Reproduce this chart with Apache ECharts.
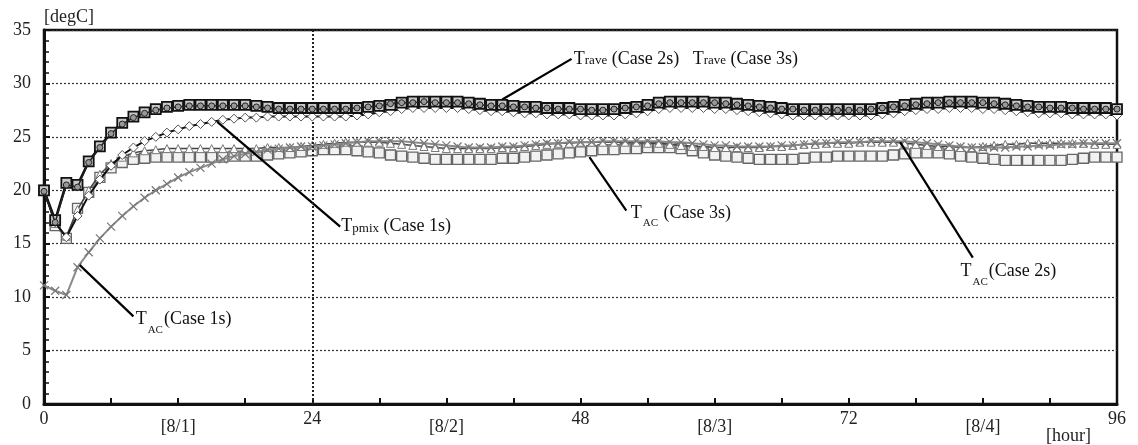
<!DOCTYPE html>
<html>
<head>
<meta charset="utf-8">
<script src="https://cdn.jsdelivr.net/npm/echarts@6/dist/echarts.min.js"></script>
<style>
  html, body { margin: 0; padding: 0; background: #fff; }
  #chart { width: 1138px; height: 445px; }
</style>
</head>
<body>
<div id="chart"></div>
<script>
// hours 0..96, one point an hour
const hours = [
    0, 1, 2, 3, 4, 5, 6, 7, 8, 9,
    10, 11, 12, 13, 14, 15, 16, 17, 18, 19,
    20, 21, 22, 23, 24, 25, 26, 27, 28, 29,
    30, 31, 32, 33, 34, 35, 36, 37, 38, 39,
    40, 41, 42, 43, 44, 45, 46, 47, 48, 49,
    50, 51, 52, 53, 54, 55, 56, 57, 58, 59,
    60, 61, 62, 63, 64, 65, 66, 67, 68, 69,
    70, 71, 72, 73, 74, 75, 76, 77, 78, 79,
    80, 81, 82, 83, 84, 85, 86, 87, 88, 89,
    90, 91, 92, 93, 94, 95, 96
];

const traveCase2 = [
    20.0, 17.2, 20.7, 20.5, 22.7, 24.1, 25.4, 26.3, 26.9, 27.3,
    27.6, 27.8, 27.9, 28.0, 28.0, 28.0, 28.0, 28.0, 28.0, 27.9,
    27.8, 27.7, 27.7, 27.7, 27.7, 27.7, 27.7, 27.7, 27.7, 27.8,
    27.9, 28.0, 28.2, 28.3, 28.3, 28.3, 28.3, 28.3, 28.2, 28.1,
    28.0, 28.0, 27.9, 27.8, 27.8, 27.7, 27.7, 27.7, 27.6, 27.6,
    27.6, 27.6, 27.7, 27.8, 28.0, 28.2, 28.3, 28.3, 28.3, 28.3,
    28.2, 28.2, 28.1, 28.0, 27.9, 27.8, 27.7, 27.6, 27.6, 27.6,
    27.6, 27.6, 27.6, 27.6, 27.6, 27.7, 27.8, 28.0, 28.1, 28.2,
    28.2, 28.3, 28.3, 28.3, 28.2, 28.2, 28.1, 28.0, 27.9, 27.8,
    27.8, 27.8, 27.7, 27.7, 27.7, 27.7, 27.6
];

const traveCase3 = [
    19.9, 17.0, 20.5, 20.3, 22.6, 24.0, 25.3, 26.2, 26.8, 27.2,
    27.5, 27.7, 27.8, 27.9, 27.9, 27.9, 27.9, 27.9, 27.9, 27.8,
    27.7, 27.6, 27.6, 27.6, 27.6, 27.6, 27.6, 27.6, 27.7, 27.8,
    27.9, 28.1, 28.2, 28.2, 28.3, 28.2, 28.2, 28.2, 28.1, 28.0,
    27.9, 27.9, 27.8, 27.8, 27.7, 27.7, 27.6, 27.6, 27.6, 27.5,
    27.5, 27.6, 27.7, 27.8, 27.9, 28.1, 28.2, 28.2, 28.2, 28.2,
    28.2, 28.1, 28.0, 27.9, 27.8, 27.7, 27.6, 27.6, 27.5, 27.5,
    27.5, 27.5, 27.5, 27.5, 27.6, 27.7, 27.8, 27.9, 28.0, 28.1,
    28.2, 28.2, 28.2, 28.2, 28.2, 28.1, 28.0, 27.9, 27.8, 27.8,
    27.7, 27.7, 27.7, 27.6, 27.6, 27.6, 27.6
];

const tpmixCase1 = [
    20.0, 17.0, 15.6, 17.6, 19.5, 21.0, 22.3, 23.3, 24.0, 24.6,
    25.0, 25.4, 25.7, 26.0, 26.2, 26.4, 26.6, 26.7, 26.8, 26.8,
    26.9, 26.9, 26.9, 26.9, 26.9, 26.9, 26.9, 26.9, 27.0, 27.1,
    27.3, 27.4, 27.6, 27.7, 27.7, 27.7, 27.7, 27.7, 27.6, 27.5,
    27.4, 27.4, 27.3, 27.2, 27.2, 27.1, 27.1, 27.1, 27.0, 27.0,
    27.0, 27.0, 27.1, 27.2, 27.4, 27.6, 27.7, 27.7, 27.7, 27.7,
    27.6, 27.6, 27.5, 27.4, 27.3, 27.2, 27.1, 27.0, 27.0, 27.0,
    27.0, 27.0, 27.0, 27.0, 27.0, 27.1, 27.2, 27.4, 27.5, 27.6,
    27.6, 27.7, 27.7, 27.7, 27.6, 27.6, 27.5, 27.4, 27.3, 27.2,
    27.2, 27.2, 27.1, 27.1, 27.1, 27.1, 27.0
];

const tacCase1 = [
    11.1, 10.6, 10.2, 12.8, 14.2, 15.5, 16.6, 17.6, 18.5, 19.3,
    20.0, 20.6, 21.2, 21.7, 22.1, 22.5, 22.9, 23.2, 23.4, 23.6,
    23.8, 23.9, 24.0, 24.1, 24.1, 24.2, 24.3, 24.4, 24.5, 24.6,
    24.6, 24.6, 24.6, 24.5, 24.4, 24.3, 24.2, 24.1, 24.0, 24.0,
    24.0, 24.1, 24.1, 24.2, 24.3, 24.4, 24.4, 24.5, 24.5, 24.5,
    24.6, 24.6, 24.6, 24.6, 24.6, 24.6, 24.5, 24.5, 24.4, 24.3,
    24.2, 24.2, 24.1, 24.1, 24.1, 24.1, 24.2, 24.2, 24.3, 24.4,
    24.4, 24.5, 24.5, 24.5, 24.6, 24.6, 24.6, 24.6, 24.5, 24.4,
    24.3, 24.2, 24.1, 24.0, 24.0, 24.0, 24.0, 24.1, 24.1, 24.2,
    24.2, 24.3, 24.3, 24.4, 24.4, 24.4, 24.4
];

const tacCase2 = [
    20.0, 16.9, 15.7, 18.2, 20.0, 21.5, 22.5, 23.1, 23.5, 23.7,
    23.8, 23.9, 23.9, 23.9, 23.9, 23.9, 23.9, 23.9, 23.9, 23.9,
    24.0, 24.0, 24.0, 24.1, 24.2, 24.3, 24.4, 24.5, 24.5, 24.5,
    24.5, 24.4, 24.3, 24.2, 24.1, 24.0, 23.9, 23.9, 23.9, 23.9,
    23.9, 24.0, 24.0, 24.1, 24.2, 24.3, 24.4, 24.4, 24.5, 24.5,
    24.5, 24.5, 24.5, 24.5, 24.4, 24.4, 24.3, 24.2, 24.1, 24.1,
    24.0, 24.0, 24.0, 24.0, 24.0, 24.1, 24.1, 24.2, 24.3, 24.3,
    24.4, 24.4, 24.4, 24.5, 24.5, 24.5, 24.5, 24.4, 24.3, 24.2,
    24.1, 24.1, 24.0, 24.0, 24.1, 24.2, 24.3, 24.3, 24.4, 24.4,
    24.4, 24.4, 24.4, 24.4, 24.3, 24.3, 24.3
];

const tacCase3 = [
    20.0, 16.7, 15.5, 18.3, 19.8, 21.2, 22.1, 22.6, 22.9, 23.0,
    23.1, 23.1, 23.1, 23.1, 23.1, 23.1, 23.1, 23.2, 23.2, 23.2,
    23.3, 23.4, 23.5, 23.6, 23.7, 23.8, 23.8, 23.8, 23.7, 23.6,
    23.5, 23.3, 23.2, 23.1, 23.0, 22.9, 22.9, 22.9, 22.9, 22.9,
    22.9, 23.0, 23.0, 23.1, 23.2, 23.3, 23.4, 23.5, 23.6, 23.7,
    23.8, 23.8, 23.9, 23.9, 24.0, 24.0, 24.0, 23.9, 23.7, 23.5,
    23.3, 23.2, 23.1, 23.0, 22.9, 22.9, 22.9, 22.9, 23.0, 23.1,
    23.1, 23.2, 23.2, 23.2, 23.2, 23.2, 23.3, 23.4, 23.5, 23.5,
    23.5, 23.4, 23.2, 23.1, 23.0, 22.9, 22.8, 22.8, 22.8, 22.8,
    22.8, 22.8, 22.9, 23.0, 23.1, 23.1, 23.1
];

// x tick labels (every 12 h)
const xLabelHours = [0, 12, 24, 36, 48, 60, 72, 84, 96];
const xLabelTexts = ["0", "[8/1]", "24", "[8/2]", "48", "[8/3]", "72", "[8/4]", "96"];

const serif = "'Liberation Serif', 'DejaVu Serif', serif";
const crossPath = "path://M0,0L10,10M10,0L0,10";

function pairs(vals) {
    return hours.map((h, i) => [h, vals[i]]);
}

// annotation text + leader lines, in data units [hour, degC]
const notes = [
    { text: "{t|T}{s|rave}{c| (Case 2s)   }{t|T}{s|rave}{c| (Case 3s)}", from: [41.0, 28.5], to: [47.2, 32.3], at: [47.4, 32.2] },
    { text: "{t|T}{s|pmix}{c| (Case 1s)}", from: [15.5, 26.4], to: [26.5, 16.6], at: [26.6, 16.5] },
    { text: "{t|T}{sub|AC}{c|(Case 1s)}", from: [3.2, 13.0], to: [8.0, 8.2], at: [8.2, 7.8] },
    { text: "{t|T}{sub|AC}{c| (Case 3s)}", from: [48.8, 23.1], to: [52.1, 18.1], at: [52.5, 17.8] },
    { text: "{t|T}{sub|AC}{c|(Case 2s)}", from: [76.6, 24.5], to: [83.1, 13.7], at: [82.0, 12.3] }
];

const richText = {
    t: { fontFamily: serif, fontSize: 18, color: "#111", verticalAlign: "top", lineHeight: 20 },
    c: { fontFamily: serif, fontSize: 18, color: "#111", verticalAlign: "top", lineHeight: 20 },
    s: { fontFamily: serif, fontSize: 13, color: "#111", verticalAlign: "top", lineHeight: 20, padding: [4, 0, 0, 0] },
    sub: { fontFamily: serif, fontSize: 11, color: "#222", verticalAlign: "top", lineHeight: 12, padding: [14, 1, 0, 1] }
};

const chart = echarts.init(document.getElementById("chart"), null, { renderer: "canvas" });

const option = {
    animation: false,
    backgroundColor: "#fff",
    grid: {
        left: 44, right: 21, top: 30, bottom: 41,
        show: true, borderColor: "#111", borderWidth: 2.5, backgroundColor: "transparent"
    },
    xAxis: {
        type: "value",
        min: 0, max: 96, interval: 6,
        axisLine: { lineStyle: { color: "#111", width: 3 } },
        axisTick: { inside: true, length: 6, lineStyle: { color: "#111", width: 2 } },
        splitLine: { show: false },
        axisLabel: {
            margin: 6,
            formatter: (v) => {
                const k = xLabelHours.indexOf(v);
                if (k < 0) return "";
                const t = xLabelTexts[k];
                return t.charAt(0) === "[" ? "{d|" + t + "}" : "{n|" + t + "}";
            },
            rich: {
                n: { fontFamily: serif, fontSize: 18, color: "#222" },
                d: { fontFamily: serif, fontSize: 18, color: "#222", padding: [8, 0, 0, 0] }
            }
        }
    },
    yAxis: {
        type: "value",
        min: 0, max: 35, interval: 5,
        name: "[degC]",
        nameLocation: "end",
        nameGap: 4,
        nameTextStyle: { fontFamily: serif, fontSize: 18, color: "#222", align: "left", padding: [0, 0, 0, 0] },
        axisLine: { show: true, lineStyle: { color: "#111", width: 3 } },
        axisTick: { inside: true, length: 6, lineStyle: { color: "#111", width: 2 } },
        minorTick: { show: true, splitNumber: 5, length: 5, lineStyle: { color: "#111", width: 1.5 } },
        splitLine: { show: true, lineStyle: { type: [2, 2], color: "#333", width: 1.2 } },
        axisLabel: { fontFamily: serif, fontSize: 18, color: "#222", margin: 13 }
    },
    series: [
        {
            name: "T_AC (Case 3s)",
            type: "line",
            data: pairs(tacCase3),
            symbol: "rect", symbolSize: 10, showAllSymbol: true,
            lineStyle: { color: "#888", width: 1.5 },
            itemStyle: { color: "#f2f2f2", borderColor: "#666", borderWidth: 1.3 },
            z: 2
        },
        {
            name: "T_AC (Case 2s)",
            type: "line",
            data: pairs(tacCase2),
            symbol: "triangle", symbolSize: 8, showAllSymbol: true,
            lineStyle: { color: "#444", width: 1.5 },
            itemStyle: { color: "#fff", borderColor: "#777", borderWidth: 1 },
            z: 3
        },
        {
            name: "T_AC (Case 1s)",
            type: "line",
            data: pairs(tacCase1),
            symbol: crossPath, symbolSize: 8, showAllSymbol: true,
            lineStyle: { color: "#8a8a8a", width: 2 },
            itemStyle: { color: "none", borderColor: "#777", borderWidth: 1.2 },
            z: 4
        },
        {
            name: "Tpmix (Case 1s)",
            type: "line",
            data: pairs(tpmixCase1),
            symbol: "diamond", symbolSize: 9, showAllSymbol: true,
            lineStyle: { color: "#111", width: 2 },
            itemStyle: { color: "#fff", borderColor: "#555", borderWidth: 1 },
            z: 5
        },
        {
            name: "Trave (Case 2s)",
            type: "line",
            data: pairs(traveCase2),
            symbol: "rect", symbolSize: 10, showAllSymbol: true,
            lineStyle: { color: "#111", width: 2.5 },
            itemStyle: { color: "#c8c8c8", borderColor: "#111", borderWidth: 1.8 },
            z: 6
        },
        {
            name: "Trave (Case 3s)",
            type: "line",
            data: pairs(traveCase3),
            symbol: "circle", symbolSize: 6, showAllSymbol: true,
            lineStyle: { color: "#222", width: 1.5 },
            itemStyle: { color: "#999", borderColor: "#222", borderWidth: 1 },
            z: 7,
            markLine: {
                silent: true,
                symbol: "none",
                label: { show: false },
                lineStyle: { color: "#000", width: 2.2, type: "solid" },
                data: notes.map((n) => [{ coord: n.from }, { coord: n.to }])
                    .concat([[
                        { xAxis: 24, yAxis: 0, lineStyle: { type: [2, 2], width: 2, color: "#222" } },
                        { xAxis: 24, yAxis: 35 }
                    ]])
            },
            markPoint: {
                silent: true,
                symbol: "circle",
                symbolSize: 0,
                data: notes.map((n) => ({
                    coord: n.at,
                    label: {
                        show: true,
                        position: "right",
                        distance: 0,
                        formatter: n.text,
                        rich: richText
                    }
                }))
            }
        }
    ],
    graphic: [
        {
            type: "text",
            right: 47,
            bottom: 0,
            style: { text: "[hour]", fontFamily: serif, fontSize: 18, fill: "#222" }
        }
    ]
};

chart.setOption(option);
</script>
</body>
</html>
